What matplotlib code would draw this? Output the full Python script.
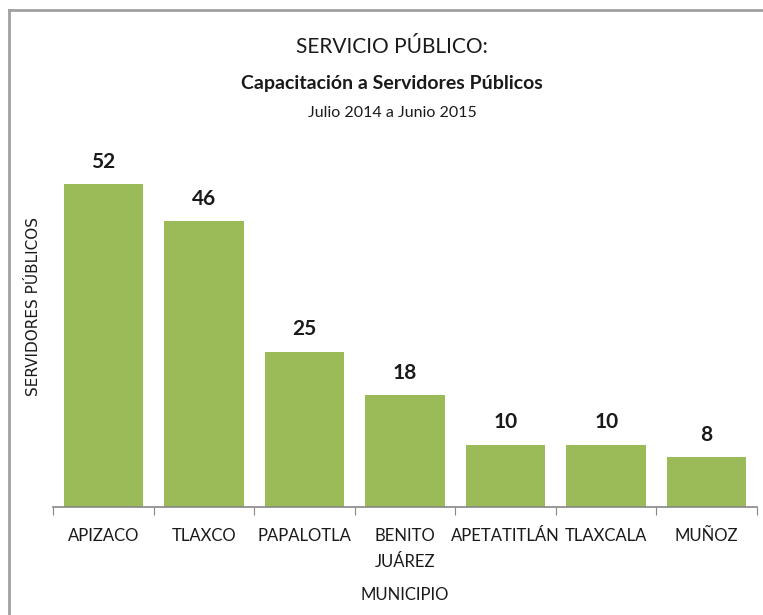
import matplotlib
matplotlib.use("Agg")
import matplotlib.pyplot as plt
from matplotlib.lines import Line2D

categories = ["APIZACO", "TLAXCO", "PAPALOTLA", "BENITO\nJUÁREZ", "APETATITLÁN", "TLAXCALA", "MUÑOZ"]
values = [52, 46, 25, 18, 10, 10, 8]

plt.rcParams['font.family'] = ['Lato', 'DejaVu Sans']

W, H = 763, 615
fig = plt.figure(figsize=(W/100, H/100), dpi=100)
fig.patch.set_facecolor("white")

# frame lines
fig.add_artist(Line2D([8.5/W, 8.5/W], [0, 1 - 9.5/H], color="#a0a0a0", lw=2, transform=fig.transFigure))
fig.add_artist(Line2D([8.5/W, 1], [1 - 9.5/H, 1 - 9.5/H], color="#a0a0a0", lw=2, transform=fig.transFigure))

left, right = 53/W, 757/W
bottom = (H - 507)/H
ymax = 60
pxu = 6.21
top_px = 507 - ymax*pxu
ax = fig.add_axes([left, bottom, right-left, (507-top_px)/H])

x = list(range(len(categories)))
ax.bar(x, values, width=0.79, color="#9bbb59", edgecolor="none", zorder=2)
ax.set_xlim(-0.5, len(categories)-0.5)
ax.set_ylim(0, ymax)

for xi, v in zip(x, values):
    ax.text(xi, v + 2.0, str(v), ha="center", va="bottom", fontsize=15, fontweight="bold", color="#1a1a1a")

for s in ["top", "right", "left"]:
    ax.spines[s].set_visible(False)
ax.spines["bottom"].set_color("#868686")
ax.spines["bottom"].set_linewidth(1.2)
ax.set_yticks([])
ax.set_xticks([i - 0.5 for i in range(len(categories)+1)], minor=False)
ax.set_xticklabels([])
ax.tick_params(axis="x", length=6, color="#868686", direction="out")
ax.set_xticks(x, minor=True)
ax.set_xticklabels(categories, minor=True, fontsize=12, color="#1a1a1a", linespacing=1.8)
ax.tick_params(axis="x", which="minor", length=0, pad=15)

ax.set_xlabel("MUNICIPIO", fontsize=12, color="#1a1a1a", labelpad=12)
fig.text(34/W, 1 - 306/H, "SERVIDORES PÚBLICOS", rotation=90, ha="center", va="center",
         fontsize=11, color="#1a1a1a", family=['DejaVu Sans'])

cx = 392/W
fig.text(cx, 1 - 47/H, "SERVICIO PÚBLICO:", ha="center", va="center", fontsize=15, color="#1a1a1a")
fig.text(cx, 1 - 83/H, "Capacitación a Servidores Públicos", ha="center", va="center", fontsize=14, fontweight="bold", color="#1a1a1a")
fig.text(cx, 1 - 113/H, "Julio 2014 a Junio 2015", ha="center", va="center", fontsize=11.5, color="#1a1a1a")

fig.savefig("out.png", dpi=100, facecolor="white")
